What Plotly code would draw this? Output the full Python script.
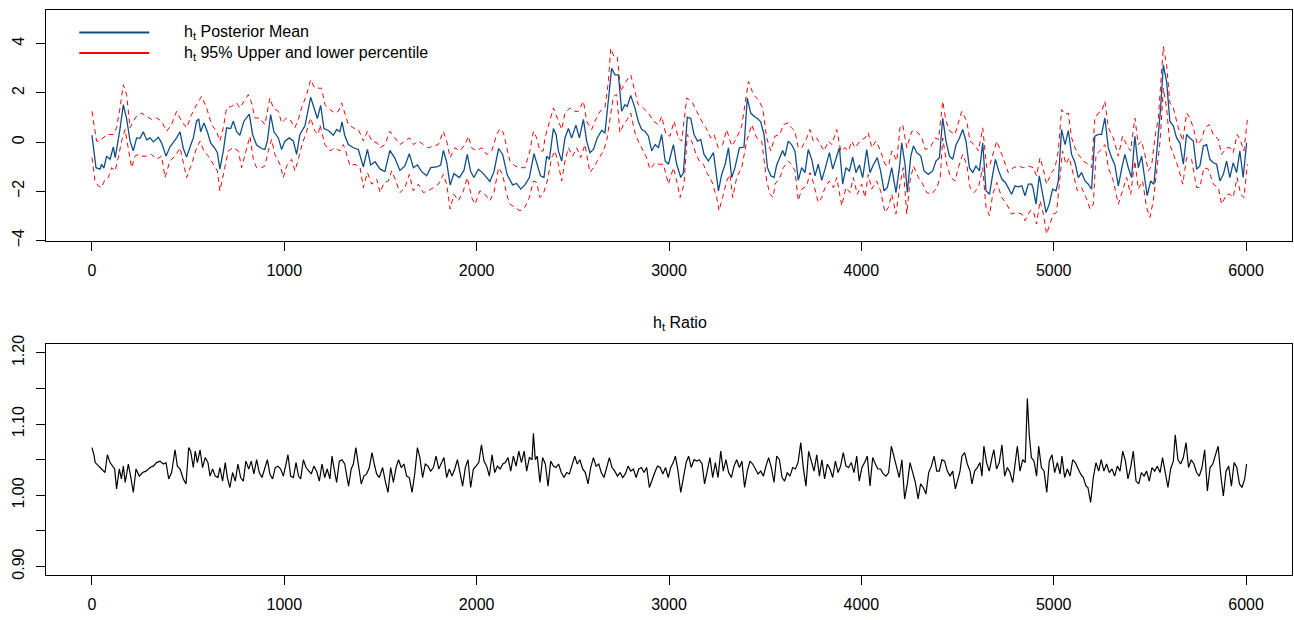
import plotly.graph_objects as go

# ---------------- data ----------------
mean_pts = [
(0,0.28),(21,-1.04),(42,-1.10),(50,-0.90),(62,-1.06),(76,-0.57),(94,-0.70),(111,-0.20),(121,-0.63),
(137,0.04),(146,0.55),(163,1.52),(180,0.96),(198,0.04),(215,-0.36),(232,0.17),(250,0.15),(267,0.42),
(284,0.09),(302,0.17),(319,0.01),(345,0.20),(362,-0.03),(385,-0.57),(405,-0.20),(440,0.17),(458,0.42),
(475,-0.26),(492,-0.61),(510,-0.20),(527,0.17),(544,0.85),(555,0.94),(565,0.42),(582,0.78),(600,0.42),
(617,-0.03),(640,-0.26),(652,-0.43),(665,-1.10),(683,-0.36),(700,0.58),(721,0.55),(735,0.85),(752,0.42),
(769,0.28),(790,0.85),(818,1.14),(835,0.31),(856,-0.12),(882,-0.26),(899,-0.30),(912,0.04),(929,1.12),
(946,0.42),(969,0.17),(986,-0.30),(1003,0.04),(1026,0.17),(1047,0.04),(1064,-0.50),(1081,0.31),
(1107,0.65),(1137,1.82),(1154,1.39),(1172,0.96),
(1189,1.49),(1206,0.55),(1229,0.47),(1255,0.28),(1272,0.51),(1289,0.42),(1300,0.82),(1314,0.28),
(1333,-0.10),(1359,-0.23),(1385,-0.30),(1411,-1.01),(1432,-0.30),(1449,-0.93),(1472,-0.80),(1498,-1.10),
(1523,-1.20),(1549,-0.34),(1575,-0.66),(1601,-1.15),(1627,-0.97),(1650,-0.47),(1671,-1.04),(1692,-0.93),
(1714,-1.20),(1740,-1.37),(1761,-1.04),(1792,-1.01),(1813,-0.93),(1827,-0.34),(1844,-0.80),(1862,-1.74),
(1882,-1.28),(1910,-1.44),(1934,-1.15),(1951,-0.50),(1969,-1.20),(1986,-1.44),(2009,-1.10),(2035,-1.28),
(2069,-1.60),(2090,-1.20),(2114,-0.26),(2135,-0.50),(2159,-1.33),(2187,-1.74),(2208,-1.68),(2229,-1.91),
(2251,-1.74),(2274,-1.44),(2298,-0.47),(2315,-0.88),(2332,-1.37),(2350,-1.44),
(2364,-0.57),(2378,-0.70),(2399,0.55),(2413,0.31),(2425,-0.36),(2442,-0.77),(2459,0.17),(2477,0.55),
(2494,0.17),(2516,0.69),(2534,0.17),(2555,0.92),(2572,0.04),(2589,-0.43),(2607,-0.30),(2627,0.17),
(2650,0.47),(2667,0.38),(2685,1.66),(2702,3.00),(2719,2.73),(2737,2.73),(2754,1.25),(2771,1.52),
(2783,1.45),(2801,1.90),(2823,1.39),(2840,0.85),(2858,0.51),(2875,0.44),(2893,0.24),(2910,-0.36),
(2928,-0.10),(2945,-0.23),(2962,0.31),(2980,-0.77),(2997,-0.90),(3023,-0.10),(3040,-0.90),(3061,-1.44),
(3075,-1.24),(3095,1.01),(3113,0.96),(3130,0.31),(3148,0.04),(3165,0.11),(3182,-0.50),(3205,-0.77),
(3231,-0.43),(3248,-1.44),(3257,-1.98),(3274,-1.31),(3292,-0.90),(3309,-0.23),(3326,-1.44),(3343,-1.04),
(3366,-0.23),(3390,-0.20),(3407,1.79),(3425,1.18),(3442,1.05),(3460,0.96),(3477,0.82),(3494,0.31),
(3512,-1.04),(3529,-1.37),(3546,-1.44),
(3560,-0.93),(3577,-0.57),(3591,-0.34),(3603,-0.57),(3620,0.04),(3637,-0.10),(3655,-0.36),(3672,-1.55),
(3690,-1.04),(3707,-1.24),(3724,-0.30),(3742,-0.70),(3759,-1.37),(3776,-0.90),(3794,-1.55),(3811,-1.10),
(3834,-0.43),(3851,-1.10),(3868,-0.70),(3886,-0.23),(3903,-1.71),(3920,-1.04),(3938,-1.17),(3955,-0.61),
(3972,-1.24),(3990,-0.93),(4007,-1.44),(4028,-0.30),(4045,-1.24),(4062,-0.93),(4083,-0.63),(4100,-1.17),
(4118,-1.98),(4135,-1.85),(4158,-1.04),(4180,-2.05),(4198,-1.04),(4210,-0.03),(4227,-0.90),(4239,-2.05),
(4257,-0.57),(4271,-0.16),(4288,-0.43),(4309,-0.57),(4326,-1.17),(4348,-1.31),(4371,-1.17),(4388,-0.77),
(4406,-0.63),(4423,0.98),(4440,0.04),(4458,-0.57),(4475,-0.70),(4492,-0.12),(4510,0.17),(4527,0.51),
(4544,0.04),(4562,-1.04),(4579,-1.24),(4596,-0.97),(4614,-1.17),(4631,-0.03),(4648,-1.98),(4666,-2.12),
(4683,-1.31),(4697,-0.70),(4714,-1.17),(4731,-1.51),(4749,-1.64),
(4764,-1.85),(4781,-2.12),(4799,-1.78),(4816,-1.82),(4834,-1.78),(4851,-2.18),(4868,-1.71),(4886,-1.71),
(4894,-1.91),(4908,-2.52),(4925,-1.37),(4942,-2.05),(4960,-2.86),(4977,-2.52),(4994,-1.91),(5012,-1.98),
(5024,-1.58),(5041,0.51),(5059,-0.10),(5076,0.47),(5093,-0.50),(5111,-0.84),(5128,-1.44),(5145,-1.24),
(5163,-1.58),(5180,-1.71),(5197,-1.91),(5214,0.24),(5232,0.31),(5249,0.31),(5266,0.98),(5284,-0.23),
(5301,-0.63),(5318,-0.93),(5336,-1.78),(5353,-1.10),(5370,-0.50),(5388,-1.04),(5405,-1.44),(5422,0.24),
(5440,-1.04),(5457,-0.57),(5474,-1.58),(5486,-2.18),(5504,-1.58),(5521,-1.71),(5538,-0.23),(5556,1.39),
(5570,3.14),(5587,2.46),(5604,0.85),(5622,0.65),(5639,0.17),(5656,-0.03),(5674,-0.90),(5691,0.31),
(5708,0.17),(5726,0.04),(5743,-1.10),(5760,-0.97),(5778,-0.16),(5795,-0.10),(5812,-0.70),(5830,-0.84),
(5847,-0.90),(5864,-1.58),(5882,-1.31),(5899,-0.77),(5916,-1.44),(5933,-0.84),(5951,-1.24),(5968,-0.36),
(5985,-1.44),(6003,-0.03),
]

upper_pts = [
(0,1.25),(24,0.04),(42,0.04),(76,0.31),(111,0.31),(128,0.58),(146,1.39),(163,2.33),(180,1.93),(198,0.58),
(215,0.85),(232,1.05),(258,1.18),(284,1.05),(310,0.92),(336,0.98),(362,0.85),(388,0.44),(414,0.71),
(440,1.25),(466,0.85),(492,0.58),(518,1.12),(544,1.52),(570,1.86),(596,1.39),(622,0.71),(648,0.44),
(665,0.04),(683,0.58),(700,1.39),(726,1.45),(752,1.59),(769,1.39),(795,1.72),(813,1.93),(830,1.59),
(847,0.98),(873,0.98),(899,0.71),(925,1.79),(943,1.39),(969,1.25),(986,0.78),(1012,0.98),(1029,0.92),
(1055,0.58),(1073,0.92),(1090,1.39),(1116,1.93),(1137,2.53),(1159,2.19),(1177,2.19),
(1194,2.19),(1211,1.52),(1237,1.32),(1263,1.18),(1281,1.25),(1298,1.59),(1316,1.18),(1333,0.71),
(1359,0.58),(1385,0.51),(1411,0.04),(1432,0.44),(1455,0.04),(1481,-0.03),(1498,-0.23),(1523,-0.10),
(1549,0.44),(1575,0.17),(1601,-0.10),(1627,0.04),(1650,0.17),(1671,-0.10),(1697,0.04),(1723,-0.10),
(1749,-0.23),(1775,-0.16),(1801,-0.10),(1827,0.44),(1844,0.04),(1862,-0.63),(1887,-0.23),(1913,-0.36),
(1939,-0.10),(1957,0.24),(1974,-0.23),(2000,-0.36),(2026,-0.23),(2052,-0.50),(2078,-0.36),(2104,0.31),
(2121,0.55),(2139,0.38),(2156,-0.23),(2173,-0.77),(2199,-0.97),(2225,-1.04),(2251,-1.04),(2277,-0.36),
(2295,0.44),(2312,0.17),(2329,-0.36),(2346,-0.36),
(2355,0.17),(2399,1.39),(2425,0.85),(2442,0.51),(2459,1.18),(2485,1.39),(2511,1.25),(2529,1.25),
(2555,1.66),(2572,0.85),(2598,0.51),(2615,0.85),(2641,1.25),(2667,1.39),(2685,2.46),(2697,3.81),
(2714,3.47),(2731,3.47),(2749,2.06),(2771,2.40),(2789,2.60),(2801,2.73),(2823,2.06),(2840,1.52),
(2866,1.39),(2893,1.18),(2919,0.85),(2945,0.71),(2962,1.05),(2984,0.31),(3005,0.24),(3026,0.85),
(3048,0.17),(3066,0.04),(3092,1.79),(3118,1.66),(3144,1.25),(3170,0.85),(3192,0.58),(3217,0.17),
(3234,0.31),(3256,-0.23),(3279,-0.10),(3300,0.51),(3326,-0.16),(3352,0.17),(3378,0.65),(3413,2.46),
(3439,1.93),(3464,1.72),(3487,1.39),(3508,0.17),(3529,-0.36),
(3551,0.24),(3577,0.31),(3594,0.71),(3620,0.78),(3637,0.58),(3655,0.44),(3672,-0.23),(3690,-0.23),
(3716,0.17),(3733,0.51),(3750,0.04),(3768,0.17),(3789,-0.10),(3806,-0.36),(3829,0.04),(3846,-0.10),
(3872,0.51),(3893,-0.36),(3915,-0.23),(3933,-0.36),(3950,0.04),(3967,-0.23),(3993,0.04),(4019,0.17),
(4036,0.38),(4054,-0.23),(4076,0.04),(4097,-0.30),(4123,-0.90),(4141,-0.97),(4158,-0.36),(4184,-0.77),
(4201,0.58),(4215,0.71),(4236,-0.23),(4262,0.44),(4288,0.44),(4314,0.17),(4332,-0.30),(4358,-0.23),
(4384,0.17),(4401,0.11),(4423,1.66),(4440,0.85),(4461,0.44),(4487,0.31),(4504,0.78),(4522,1.25),
(4548,0.85),(4565,0.04),(4586,-0.10),(4609,-0.36),(4631,0.58),(4652,-1.04),(4669,-0.90),(4687,-0.36),
(4704,0.04),(4730,-0.50),(4756,-1.04),
(4764,-1.24),(4790,-1.04),(4816,-0.97),(4842,-1.04),(4868,-0.97),(4894,-1.04),(4911,-1.37),(4929,-0.63),
(4946,-1.10),(4963,-1.71),(4989,-1.24),(5007,-1.04),(5024,-0.36),(5041,1.32),(5059,1.12),(5076,1.18),
(5093,0.17),(5111,-0.23),(5128,-0.50),(5154,-0.77),(5180,-0.90),(5197,-1.04),(5214,0.98),(5232,1.18),
(5249,1.25),(5266,1.66),(5284,0.58),(5310,0.17),(5336,-0.57),(5358,0.24),(5379,-0.10),(5400,-0.36),
(5422,0.98),(5440,-0.10),(5457,0.04),(5474,-0.50),(5492,-1.17),(5509,-0.97),(5526,0.17),(5544,0.98),
(5556,2.19),(5570,3.88),(5587,3.14),(5604,1.59),(5622,1.39),(5648,0.58),(5671,0.04),(5691,1.18),
(5708,0.98),(5726,0.58),(5747,-0.10),(5769,0.11),(5786,0.58),(5809,0.71),(5830,0.31),(5856,0.11),
(5873,-0.50),(5899,-0.23),(5916,-0.23),(5933,-0.43),(5954,0.31),(5972,0.04),(5989,-0.36),(6007,0.92),
]

lower_pts = [
(0,-0.63),(16,-1.58),(33,-1.78),(50,-1.85),(68,-1.51),(85,-1.44),(102,-1.04),(120,-1.17),(137,-0.63),
(154,0.04),(172,0.51),(189,-0.36),(206,-1.04),(224,-0.57),(241,-0.50),(258,-0.57),(284,-0.57),(310,-0.50),
(336,-0.70),(362,-0.57),(380,-1.44),(405,-0.77),(432,-0.57),(458,-0.23),(483,-1.04),(492,-1.44),
(518,-0.90),(544,-0.23),(562,0.04),(582,-0.36),(605,-0.57),(631,-0.90),(652,-1.17),(665,-1.98),
(683,-1.31),(709,-0.36),(735,-0.23),(761,-0.36),(778,-1.04),(804,-0.23),(821,0.24),(839,-0.70),
(856,-1.04),(882,-1.04),(899,-0.97),(917,-0.36),(934,0.11),(951,-0.50),(977,-0.90),(995,-1.44),
(1012,-0.97),(1038,-0.70),(1055,-1.17),(1073,-0.70),(1090,-0.16),(1116,0.44),(1137,0.98),(1159,0.44),
(1177,0.31),
(1185,0.71),(1211,-0.10),(1237,-0.36),(1263,-0.23),(1289,-0.36),(1307,-0.10),(1324,-0.50),(1342,-0.97),
(1368,-0.90),(1394,-1.04),(1411,-1.85),(1432,-1.24),(1455,-1.71),(1481,-1.51),(1498,-2.05),(1519,-1.64),
(1541,-1.58),(1558,-1.17),(1580,-1.58),(1601,-2.05),(1627,-1.85),(1650,-1.31),(1671,-1.98),(1697,-1.71),
(1723,-2.05),(1749,-1.98),(1775,-1.85),(1801,-1.71),(1827,-1.31),(1844,-1.71),(1862,-2.72),(1882,-2.12),
(1905,-2.38),(1931,-1.98),(1951,-1.44),(1974,-2.25),(1991,-2.52),(2017,-1.98),(2043,-2.12),(2069,-2.38),
(2090,-2.05),(2114,-1.04),(2135,-1.31),(2156,-2.12),(2173,-2.52),(2199,-2.65),(2225,-2.79),(2251,-2.65),
(2274,-2.25),(2295,-1.58),(2312,-1.64),(2329,-2.25),(2346,-2.12),
(2367,-1.58),(2390,-0.63),(2407,-0.36),(2425,-0.90),(2442,-1.58),(2459,-0.77),(2477,-0.23),(2499,-0.57),
(2520,-0.23),(2541,-0.63),(2563,-0.10),(2589,-1.24),(2607,-1.04),(2633,-0.70),(2659,-0.36),(2676,0.04),
(2693,0.98),(2711,1.86),(2728,1.93),(2745,0.38),(2763,0.71),(2783,0.92),(2801,1.18),(2823,0.38),
(2840,0.04),(2858,-0.23),(2880,-0.57),(2901,-1.10),(2928,-0.84),(2950,-0.90),(2971,-0.90),(2997,-1.71),
(3023,-1.04),(3040,-1.58),(3058,-2.25),(3078,-1.71),(3095,0.31),(3118,0.04),(3141,-0.50),(3158,-0.77),
(3179,-0.90),(3196,-1.24),(3222,-1.58),(3248,-2.25),(3260,-2.79),(3279,-2.25),(3300,-1.58),(3317,-1.31),
(3331,-2.25),(3352,-1.44),(3378,-1.04),(3404,0.04),(3430,0.71),(3456,0.17),(3482,0.04),(3508,-1.58),
(3525,-2.12),(3542,-2.25),
(3551,-1.71),(3577,-1.44),(3594,-1.04),(3620,-0.77),(3637,-0.90),(3655,-1.17),(3672,-2.38),(3690,-1.91),
(3716,-1.78),(3733,-1.24),(3750,-1.64),(3776,-2.45),(3794,-2.25),(3811,-1.85),(3834,-1.58),(3855,-1.85),
(3872,-1.44),(3898,-2.59),(3920,-1.85),(3941,-2.05),(3958,-1.44),(3979,-2.12),(4002,-1.71),(4019,-2.25),
(4036,-1.31),(4054,-1.91),(4080,-1.58),(4100,-1.98),(4123,-2.86),(4141,-2.65),(4158,-2.12),(4180,-2.92),
(4201,-1.71),(4218,-1.04),(4236,-2.92),(4253,-1.58),(4271,-0.97),(4297,-1.44),(4319,-1.71),(4340,-2.05),
(4366,-2.12),(4392,-1.85),(4410,-1.44),(4423,0.17),(4444,-0.90),(4465,-1.44),(4487,-1.58),(4504,-1.04),
(4527,-0.50),(4548,-0.90),(4565,-1.85),(4586,-2.05),(4609,-1.85),(4631,-1.04),(4648,-2.65),(4666,-2.99),
(4683,-2.12),(4704,-1.64),(4730,-2.25),(4756,-2.52),
(4781,-2.92),(4807,-2.86),(4834,-2.92),(4851,-3.19),(4877,-2.79),(4894,-2.79),(4911,-3.33),(4929,-2.38),
(4946,-2.92),(4963,-3.73),(4981,-3.33),(4998,-2.92),(5015,-2.86),(5033,-1.44),(5046,-0.36),(5064,-0.90),
(5081,-0.63),(5102,-1.31),(5123,-1.98),(5145,-1.85),(5168,-2.25),(5189,-2.72),(5206,-2.52),(5220,-0.50),
(5240,-0.36),(5266,-0.10),(5284,-1.04),(5310,-1.58),(5336,-2.52),(5358,-1.98),(5379,-1.44),(5400,-2.12),
(5422,-0.77),(5440,-1.91),(5462,-1.58),(5483,-2.65),(5500,-3.06),(5518,-2.38),(5535,-1.31),(5553,0.04),
(5570,2.19),(5587,1.39),(5604,-0.10),(5622,-0.50),(5648,-1.04),(5671,-1.71),(5691,-0.63),(5717,-0.70),
(5743,-1.85),(5760,-1.85),(5781,-1.04),(5804,-1.10),(5830,-1.71),(5856,-1.85),(5873,-2.52),(5899,-2.12),
(5916,-2.12),(5933,-2.25),(5954,-1.44),(5972,-2.12),(5989,-2.25),(6007,-0.90),
]

ratio_pts = [
(0,1.067),(10,1.057),(17,1.046),(33,1.041),(50,1.037),(68,1.032),(80,1.057),(94,1.046),(107,1.041),
(118,1.037),(128,1.009),(142,1.037),(153,1.023),(163,1.041),(173,1.018),(189,1.044),(201,1.027),
(215,1.004),(229,1.037),(246,1.027),(263,1.032),(281,1.034),(302,1.039),(319,1.041),(336,1.046),
(354,1.048),(371,1.044),(385,1.046),(399,1.023),(414,1.032),(432,1.064),(444,1.041),(458,1.037),
(475,1.023),(489,1.016),(503,1.067),(513,1.062),(527,1.039),(537,1.062),(548,1.046),(562,1.064),
(575,1.039),(589,1.053),(603,1.046),(614,1.027),(627,1.037),(641,1.027),(655,1.025),(665,1.039),
(679,1.020),(693,1.046),(704,1.025),(717,1.011),(731,1.032),(745,1.020),(759,1.044),(773,1.025),
(787,1.020),(800,1.048),(815,1.037),(828,1.048),(842,1.030),(856,1.050),(870,1.032),(884,1.025),
(898,1.037),(912,1.050),(925,1.030),(939,1.023),(953,1.039),(967,1.041),(981,1.037),(995,1.027),
(1009,1.044),(1019,1.057),(1033,1.027),(1047,1.025),(1061,1.046),(1074,1.027),(1085,1.023),(1099,1.050),
(1113,1.039),(1127,1.034),(1140,1.030),(1154,1.041),(1168,1.034),(1182,1.020),(1196,1.044),(1210,1.025),
(1223,1.037),(1237,1.023),(1248,1.055),(1258,1.039),(1272,1.018),(1286,1.048),(1300,1.050),(1314,1.044),
(1324,1.030),(1334,1.013),(1348,1.037),(1359,1.044),(1372,1.067),(1386,1.039),(1400,1.016),(1414,1.027),
(1428,1.030),(1442,1.039),(1456,1.060),(1466,1.046),(1480,1.030),(1494,1.025),
(1511,1.039),(1525,1.020),(1539,1.004),(1553,1.039),(1567,1.018),(1581,1.039),(1594,1.050),(1608,1.039),
(1622,1.044),(1636,1.027),(1650,1.025),(1664,1.004),(1678,1.030),(1692,1.067),(1705,1.053),(1719,1.025),
(1733,1.044),(1747,1.041),(1761,1.034),(1775,1.039),(1789,1.055),(1803,1.037),(1816,1.046),(1830,1.053),
(1844,1.025),(1858,1.037),(1872,1.027),(1886,1.037),(1900,1.050),(1914,1.030),(1927,1.013),(1941,1.039),
(1955,1.050),(1969,1.011),(1983,1.037),(1997,1.041),(2011,1.046),(2025,1.071),(2038,1.048),(2052,1.041),
(2066,1.027),(2080,1.057),(2094,1.032),(2108,1.041),(2122,1.037),(2136,1.044),(2149,1.046),(2163,1.053),
(2177,1.034),(2191,1.055),(2205,1.041),(2219,1.062),(2233,1.046),(2247,1.062),(2260,1.034),(2274,1.053),
(2288,1.050),(2295,1.087),(2305,1.050),(2315,1.055),(2329,1.018),(2343,1.053),(2357,1.044),(2371,1.013),
(2385,1.048),(2399,1.041),(2413,1.039),(2426,1.044),(2440,1.032),(2454,1.025),(2468,1.032),(2482,1.030),
(2496,1.041),(2510,1.055),(2523,1.044),(2537,1.050),(2551,1.037),(2565,1.032),(2579,1.016),(2593,1.039),
(2607,1.053),(2621,1.041),(2635,1.044),(2648,1.032),(2662,1.025),(2676,1.041),(2690,1.053),(2704,1.039),
(2718,1.034),(2732,1.027),(2746,1.032),(2759,1.025),(2773,1.030),(2787,1.041),(2801,1.034),(2815,1.037),
(2829,1.025),(2843,1.037),(2857,1.039),(2870,1.032),(2884,1.039),(2898,1.011),(2912,1.023),(2926,1.032),
(2940,1.041),(2954,1.039),(2968,1.030),(2982,1.039),(2996,1.025),
(3009,1.039),(3022,1.046),(3033,1.055),(3047,1.034),(3061,1.004),(3075,1.025),(3089,1.046),(3102,1.055),
(3116,1.039),(3130,1.050),(3144,1.048),(3158,1.050),(3172,1.044),(3185,1.016),(3199,1.037),(3213,1.053),
(3227,1.025),(3241,1.046),(3255,1.025),(3269,1.062),(3282,1.034),(3296,1.050),(3310,1.032),(3324,1.025),
(3338,1.041),(3352,1.050),(3366,1.039),(3379,1.048),(3393,1.011),(3407,1.034),(3421,1.048),(3435,1.044),
(3449,1.037),(3463,1.030),(3477,1.034),(3491,1.027),(3504,1.041),(3518,1.053),(3532,1.039),(3546,1.018),
(3560,1.055),(3574,1.050),(3588,1.025),(3601,1.020),(3615,1.032),(3629,1.027),(3643,1.039),(3657,1.037),
(3671,1.046),(3685,1.074),(3698,1.039),(3712,1.013),(3726,1.062),(3740,1.046),(3754,1.034),(3768,1.057),
(3782,1.027),(3795,1.050),(3809,1.023),(3823,1.044),(3837,1.037),(3851,1.025),(3865,1.048),(3879,1.032),
(3892,1.041),(3906,1.060),(3920,1.041),(3934,1.039),(3948,1.046),(3962,1.032),(3976,1.055),(3989,1.020),
(4003,1.039),(4017,1.046),(4031,1.055),(4045,1.013),(4059,1.053),(4073,1.044),(4086,1.037),(4100,1.037),
(4114,1.030),(4128,1.027),(4142,1.032),(4156,1.069),(4170,1.053),(4183,1.037),(4197,1.025),(4211,1.050),
(4225,0.995),(4239,1.016),(4253,1.046),(4267,1.032),(4281,1.018),(4295,0.995),(4308,1.016),(4322,1.011),
(4336,1.002),(4350,1.032),(4364,1.041),(4378,1.055),(4392,1.034),(4405,1.034),(4419,1.050),(4433,1.048),
(4447,1.034),(4461,1.027),(4475,1.034),(4489,1.009),(4502,1.025),
(4513,1.034),(4523,1.055),(4537,1.060),(4551,1.044),(4565,1.034),(4575,1.016),(4589,1.034),(4603,1.039),
(4617,1.046),(4627,1.027),(4637,1.069),(4651,1.046),(4665,1.034),(4679,1.053),(4689,1.064),(4703,1.037),
(4717,1.046),(4731,1.071),(4745,1.027),(4759,1.039),(4773,1.032),(4787,1.018),(4800,1.050),(4811,1.069),
(4825,1.034),(4839,1.050),(4852,1.046),(4863,1.136),(4873,1.085),(4884,1.053),(4898,1.048),(4911,1.027),
(4922,1.069),(4936,1.039),(4950,1.034),(4964,1.004),(4977,1.048),(4991,1.057),(5005,1.032),(5019,1.046),
(5033,1.030),(5043,1.055),(5057,1.025),(5071,1.037),(5085,1.027),(5099,1.050),(5112,1.046),(5126,1.037),
(5140,1.030),(5154,1.025),(5168,1.013),(5178,1.011),(5192,0.990),(5206,1.025),(5220,1.046),(5234,1.034),
(5247,1.050),(5261,1.034),(5275,1.044),(5289,1.032),(5303,1.037),(5317,1.027),(5331,1.041),(5345,1.034),
(5359,1.062),(5373,1.048),(5386,1.023),(5400,1.039),(5414,1.062),(5428,1.020),(5442,1.016),(5456,1.032),
(5470,1.027),(5483,1.034),(5497,1.020),(5511,1.039),(5525,1.034),(5539,1.041),(5553,1.032),(5566,1.053),
(5580,1.034),(5594,1.011),(5608,1.037),(5622,1.048),(5632,1.085),(5646,1.050),(5660,1.044),(5674,1.053),
(5688,1.074),(5701,1.039),(5715,1.050),(5729,1.044),(5743,1.032),(5757,1.027),(5771,1.039),(5785,1.064),
(5799,1.006),(5813,1.039),(5827,1.044),(5841,1.055),(5855,1.069),(5868,1.030),(5882,0.999),(5896,1.034),
(5910,1.041),(5924,1.013),(5938,1.046),(5952,1.039),(5966,1.016),(5979,1.011),(5993,1.023),(6003,1.044),
]

x_ticks = [0, 1000, 2000, 3000, 4000, 5000, 6000]
top_yticks = [-4, -2, 0, 2, 4]
bot_yticks = [0.90, 0.95, 1.00, 1.05, 1.10, 1.15, 1.20]
bot_ylabels = ["0.90", "", "1.00", "", "1.10", "", "1.20"]
legend_labels = ["h<sub>t</sub> Posterior Mean", "h<sub>t</sub> 95% Upper and lower percentile"]
title_bottom = "h<sub>t</sub> Ratio"

BLUE = "#104E8B"
RED = "#FF0000"
FONT = "Liberation Sans, Arial, Helvetica, sans-serif"
FS = 16
W, H = 1294, 620

def split(pts):
    return [p[0] for p in pts], [p[1] for p in pts]

mt, mv = split(mean_pts)
ut, uv = split(upper_pts)
lt, lv = split(lower_pts)
rt, rv = split(ratio_pts)

fig = go.Figure()
fig.add_trace(go.Scatter(x=ut, y=uv, mode="lines", line=dict(color=RED, width=1, dash="5px,4px"),
                         xaxis="x", yaxis="y", showlegend=False))
fig.add_trace(go.Scatter(x=lt, y=lv, mode="lines", line=dict(color=RED, width=1, dash="5px,4px"),
                         xaxis="x", yaxis="y", showlegend=False))
fig.add_trace(go.Scatter(x=mt, y=mv, mode="lines", line=dict(color=BLUE, width=1.3),
                         xaxis="x", yaxis="y", showlegend=False))
fig.add_trace(go.Scatter(x=rt, y=rv, mode="lines", line=dict(color="black", width=1.2),
                         xaxis="x2", yaxis="y2", showlegend=False))

axis_common = dict(showline=True, mirror=True, linecolor="black", linewidth=1, ticks="outside",
                   ticklen=9, tickwidth=1, tickcolor="black", showgrid=False, zeroline=False,
                   tickfont=dict(family=FONT, size=FS, color="black"))

xdom = [45.8 / W, 1292.2 / W]
xr = [-240, 6240]
fig.update_layout(
    width=W, height=H, margin=dict(l=0, r=0, t=0, b=0),
    paper_bgcolor="white", plot_bgcolor="white",
    font=dict(family=FONT, size=FS, color="black"),
    xaxis=dict(domain=xdom, range=xr, anchor="y", tickvals=x_ticks,
               ticklabelstandoff=6, **axis_common),
    yaxis=dict(domain=[1 - 238.0 / H, 1 - 0.8 / H], range=[-4.028, 5.376], anchor="x",
               tickvals=top_yticks, tickangle=-90, ticklabelstandoff=5, **axis_common),
    xaxis2=dict(domain=xdom, range=xr, anchor="y2", tickvals=x_ticks,
                ticklabelstandoff=6, **axis_common),
    yaxis2=dict(domain=[1 - 580.1 / H, 1 - 343.7 / H], range=[0.888, 1.212], anchor="x2",
                tickvals=bot_yticks, ticktext=bot_ylabels, tickangle=-90, ticklabelstandoff=5,
                **axis_common),
)

# legend drawn like R's legend(): solid line samples followed by labels
for i, (lab, col) in enumerate(zip(legend_labels, [BLUE, RED])):
    yy = 1 - (24.0 + 21.1 * i) / H
    fig.add_shape(type="line", xref="paper", yref="paper", x0=79.3 / W, x1=149.3 / W, y0=yy, y1=yy,
                  line=dict(color=col, width=2))
    fig.add_annotation(xref="paper", yref="paper", x=182 / W, y=yy, text=lab, showarrow=False,
                       xanchor="left", yanchor="middle", font=dict(family=FONT, size=FS, color="black"))

fig.add_annotation(xref="paper", yref="paper", x=680 / W, y=1 - 322 / H, text=title_bottom,
                   showarrow=False, xanchor="center", yanchor="middle",
                   font=dict(family=FONT, size=FS, color="black"))

fig.write_html("out.html")
